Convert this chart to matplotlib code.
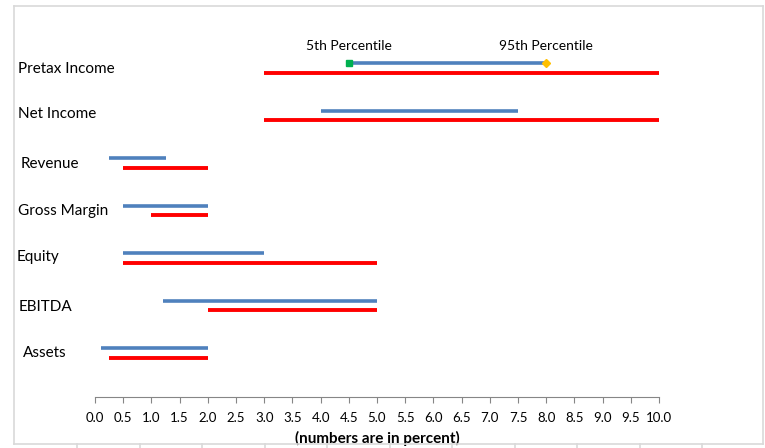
import numpy as np
import matplotlib.pyplot as plt
import matplotlib.transforms as mtransforms
from matplotlib.lines import Line2D

# ranges per item (percent)
categories = ['Pretax Income', 'Net Income', 'Revenue', 'Gross Margin', 'Equity', 'EBITDA', 'Assets']
blue_lo = [4.5, 4.0, 0.25, 0.5, 0.5, 1.2, 0.1]
blue_hi = [8.0, 7.5, 1.25, 2.0, 3.0, 5.0, 2.0]
red_lo = [3.0, 3.0, 0.5, 1.0, 0.5, 2.0, 0.25]
red_hi = [10.0, 10.0, 2.0, 2.0, 5.0, 5.0, 2.0]
xticks = np.arange(0, 10.01, 0.5)

plt.rcParams['font.family'] = ['Lato', 'DejaVu Sans']

W, H = 765, 448
fig = plt.figure(figsize=(W / 100, H / 100), dpi=100)

# axes: x 0..10 -> 95..659 px, bottom spine at y=397 px
ax = fig.add_axes([95 / W, (H - 397) / H, 564 / W, 387 / H])
ax.set_xlim(0, 10)
ax.set_ylim(6.93, 6.93 - 387 / 47.5)

rows = np.arange(len(categories))
ax.hlines(rows - 0.1, blue_lo, blue_hi, color='#4F81BD', lw=2.6, clip_on=False)
ax.hlines(rows + 0.1, red_lo, red_hi, color='#FF0000', lw=2.8, clip_on=False)

# markers on the first row
ax.plot(blue_lo[0], -0.1, marker='s', ms=5, color='#00B050', clip_on=False)
ax.plot(blue_hi[0], -0.1, marker='D', ms=4.5, color='#FFC000', clip_on=False)
ax.text(blue_lo[0], -0.46, '5th Percentile', ha='center', va='center', fontsize=10)
ax.text(blue_hi[0], -0.46, '95th Percentile', ha='center', va='center', fontsize=10)

# category labels at left (x in figure, y in data)
blend = mtransforms.blended_transform_factory(fig.transFigure, ax.transData)
label_x = [18, 18, 21, 18, 17, 19, 23]
label_dy = [0.03, -0.02, 0.02, 0.01, -0.01, 0.04, 0.0]
for i, name in enumerate(categories):
    ax.text(label_x[i] / W, i + label_dy[i], name, transform=blend,
            fontsize=11, va='center', ha='left')

for s in ['top', 'right', 'left']:
    ax.spines[s].set_visible(False)
ax.spines['bottom'].set_color('#868686')
ax.set_yticks([])
ax.set_xticks(xticks)
ax.set_xticklabels(['%.1f' % v for v in xticks], fontsize=9.5)
ax.tick_params(axis='x', direction='out', length=4, color='#868686', pad=7)
ax.set_xlabel('(numbers are in percent)', fontsize=11, fontweight='bold', labelpad=5)

# outer chart frame
frame_kw = dict(color='#D9D9D9', lw=1.2, transform=fig.transFigure)
fig.add_artist(Line2D([14 / W, 763 / W], [1 - 6 / H, 1 - 6 / H], **frame_kw))
fig.add_artist(Line2D([14 / W, 14 / W], [1 - 6 / H, 1 - 444 / H], **frame_kw))
fig.add_artist(Line2D([763 / W, 763 / W], [1 - 6 / H, 1 - 444 / H], **frame_kw))
fig.add_artist(Line2D([14 / W, 763 / W], [1 - 444 / H, 1 - 444 / H], **frame_kw))
for px in np.arange(77, 763, 62.5):
    fig.add_artist(Line2D([px / W, px / W], [1 - 444 / H, 0], **frame_kw))

fig.savefig('out.png', dpi=100)
